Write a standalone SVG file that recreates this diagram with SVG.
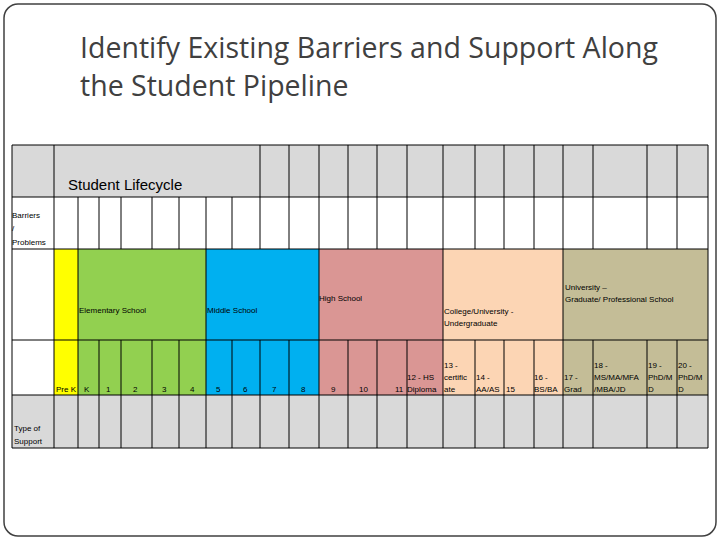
<svg xmlns="http://www.w3.org/2000/svg" width="720" height="540" viewBox="0 0 720 540">
<style>
.t{font-family:"Liberation Sans",Arial,sans-serif;font-size:8px;fill:#000}
.g{fill:#d9d9d9}
.ln{stroke:#000;stroke-width:1;fill:none}
.title{font-family:"Open Sans","Liberation Sans",sans-serif;font-size:28.5px;fill:#404040}
</style>
<rect x="0" y="0" width="720" height="540" fill="#fff"/>
<rect x="4" y="4" width="712" height="532" rx="14" fill="#fff" stroke="#404040" stroke-width="1.5"/>
<g id="title">
<text class="title" x="80" y="58">Identify Existing Barriers and Support Along</text>
<text class="title" x="80" y="96">the Student Pipeline</text>
</g>
<g id="table">
<rect class="g" x="12" y="145" width="696" height="52"/>
<rect fill="#fff" x="12" y="197" width="696" height="52"/>
<rect fill="#fff" x="12" y="249" width="42" height="146"/>
<rect fill="#ffff00" x="54" y="249" width="24" height="146"/>
<rect fill="#92d050" x="78" y="249" width="128" height="146"/>
<rect fill="#00b0f0" x="206" y="249" width="113" height="146"/>
<rect fill="#da9694" x="319" y="249" width="124" height="146"/>
<rect fill="#fcd5b4" x="443" y="249" width="120" height="146"/>
<rect fill="#c4bd97" x="563" y="249" width="145" height="146"/>
<rect class="g" x="12" y="395" width="696" height="53"/>
<path class="ln" d="M12 145H708V448H12Z M12 197H708 M12 249H708 M12 340H708 M12 395H708
M54 145V448 M78 197V448 M206 197V448 M319 145V448 M443 145V448 M563 145V448
M99 197V249 M121 197V249 M152 197V249 M179 197V249 M232 197V249
M260 145V249 M289 145V249 M348 145V249 M377 145V249 M407 145V249 M475 145V249 M504 145V249 M534 145V249 M593 145V249 M647 145V249 M677 145V249
M99 340V448 M121 340V448 M152 340V448 M179 340V448 M232 340V448
M260 340V448 M289 340V448 M348 340V448 M377 340V448 M407 340V448 M475 340V448 M504 340V448 M534 340V448 M593 340V448 M647 340V448 M677 340V448"/>
</g>
<g id="labels">
<text x="68" y="190" style="font-family:'Liberation Sans',sans-serif;font-size:15px">Student Lifecycle</text>
<text class="t" x="12" y="218">Barriers</text>
<text class="t" x="12" y="231">/</text>
<text class="t" x="12" y="245">Problems</text>
<text class="t" x="14" y="431">Type of</text>
<text class="t" x="14" y="444">Support</text>
<text class="t" x="79" y="313">Elementary School</text>
<text class="t" x="207" y="313">Middle School</text>
<text class="t" x="319" y="301">High School</text>
<text class="t" x="444" y="314">College/University -</text>
<text class="t" x="444" y="326">Undergraduate</text>
<text class="t" x="565" y="290">University –</text>
<text class="t" x="565" y="302">Graduate/ Professional School</text>
<text class="t" x="56" y="392">Pre K</text>
<text class="t" x="84" y="392">K</text>
<text class="t" x="106" y="392">1</text>
<text class="t" x="133" y="392">2</text>
<text class="t" x="162" y="392">3</text>
<text class="t" x="190" y="392">4</text>
<text class="t" x="216" y="392">5</text>
<text class="t" x="243" y="392">6</text>
<text class="t" x="272" y="392">7</text>
<text class="t" x="301" y="392">8</text>
<text class="t" x="331" y="392">9</text>
<text class="t" x="359" y="392">10</text>
<text class="t" x="395" y="392">11</text>
<text class="t" x="407" y="380">12 - HS</text>
<text class="t" x="407" y="392">Diploma</text>
<text class="t" x="444" y="368">13 -</text>
<text class="t" x="444" y="380">certific</text>
<text class="t" x="444" y="392">ate</text>
<text class="t" x="476" y="380">14 -</text>
<text class="t" x="476" y="392">AA/AS</text>
<text class="t" x="506" y="392">15</text>
<text class="t" x="534" y="380">16 -</text>
<text class="t" x="534" y="392">BS/BA</text>
<text class="t" x="564" y="380">17 -</text>
<text class="t" x="564" y="392">Grad</text>
<text class="t" x="594" y="368">18 -</text>
<text class="t" x="594" y="380">MS/MA/MFA</text>
<text class="t" x="594" y="392">/MBA/JD</text>
<text class="t" x="648" y="368">19 -</text>
<text class="t" x="648" y="380">PhD/M</text>
<text class="t" x="648" y="392">D</text>
<text class="t" x="678" y="368">20 -</text>
<text class="t" x="678" y="380">PhD/M</text>
<text class="t" x="678" y="392">D</text>
</g>
</svg>
